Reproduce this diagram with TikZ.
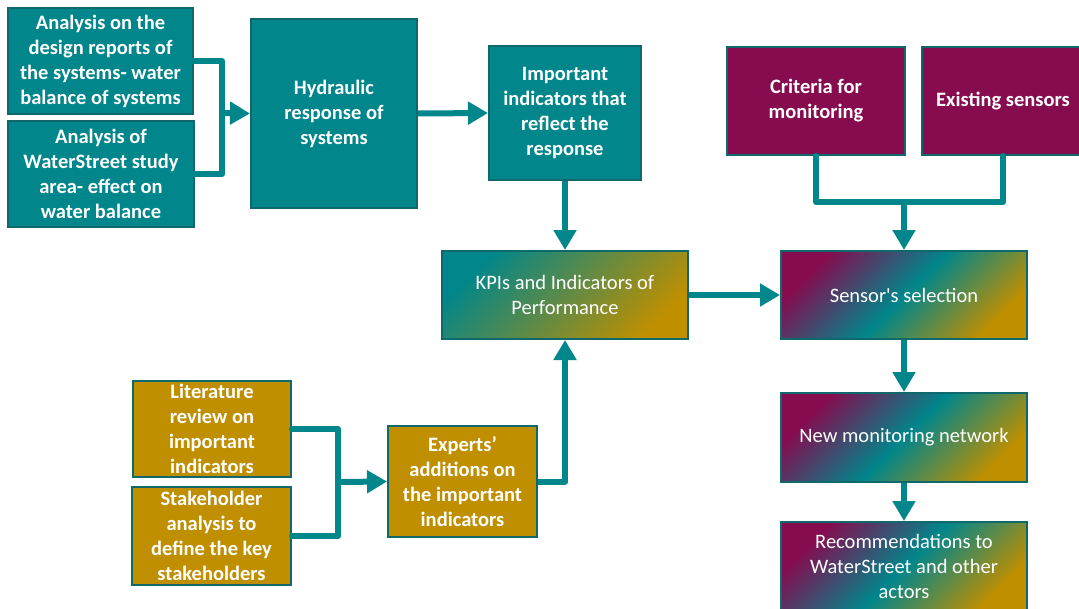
\documentclass[tikz,border=0pt]{standalone}
\usepackage{fontspec}
\setmainfont{Carlito}
\usepackage{tikz}
\usetikzlibrary{arrows.meta}
\definecolor{tl}{RGB}{0,134,139}
\definecolor{tldark}{RGB}{14,104,108}
\definecolor{gd}{RGB}{191,143,0}
\definecolor{mg}{RGB}{134,11,79}
\tikzset{
  box/.style={draw=tldark, line width=2pt, text=white, align=center, inner sep=0pt,
    font=\fontsize{20.5}{25}\selectfont},
  tlbox/.style={box, fill=tl, font=\fontsize{20.5}{25}\selectfont\bfseries},
  gdbox/.style={box, fill=gd, font=\fontsize{20.5}{25}\selectfont\bfseries},
  mgbox/.style={box, fill=mg, font=\fontsize{20.5}{25}\selectfont\bfseries},
  kpibox/.style={box, left color=tl, right color=gd, middle color=tl!50!gd, shading angle=45},
  mixbox/.style={box, left color=mg, right color=gd, middle color=tl, shading angle=45},
  conn/.style={draw=tl, line width=6pt, line join=round, line cap=round},
  arr/.style={conn, line cap=butt, -{Triangle[length=20pt,width=22pt]}},
}
\begin{document}
\begin{tikzpicture}[x=1pt, y=-1pt]
  \useasboundingbox (0,0) rectangle (1079,608);

  % teal column
  \node[tlbox, minimum width=185pt, minimum height=106pt] (a1) at (100.5,61)
    {Analysis on the\\design reports of\\the systems- water\\balance of systems};
  \node[tlbox, minimum width=186pt, minimum height=106pt] (a2) at (101,174)
    {Analysis of\\WaterStreet study\\area- effect on\\water balance};
  \node[tlbox, minimum width=166pt, minimum height=189pt] (hyd) at (334,113.5)
    {Hydraulic\\response of\\systems};
  \node[tlbox, minimum width=152pt, minimum height=134pt] (imp) at (565,113)
    {Important\\indicators that\\reflect the\\response};

  % gold column
  \node[gdbox, minimum width=158pt, minimum height=96pt] (lit) at (212,429)
    {Literature\\review on\\important\\indicators};
  \node[gdbox, minimum width=159pt, minimum height=98pt] (stk) at (211.5,536)
    {Stakeholder\\analysis to\\define the key\\stakeholders};
  \node[gdbox, minimum width=149pt, minimum height=111pt] (exp) at (462.5,481.5)
    {Experts’\\additions on\\the important\\indicators};

  \node[kpibox, minimum width=246pt, minimum height=88pt] (kpi) at (565,295)
    {KPIs and Indicators of\\Performance};

  % sensor side
  \node[mgbox, minimum width=178pt, minimum height=108pt] (crit) at (816,101)
    {Criteria for\\monitoring};
  \node[mgbox, minimum width=162pt, minimum height=108pt] (exi) at (1003,101)
    {Existing sensors};
  \node[mixbox, minimum width=246pt, minimum height=88pt] (sen) at (904,295)
    {Sensor\textquotesingle s selection};
  \node[mixbox, minimum width=246pt, minimum height=89pt] (net) at (904,437.5)
    {New monitoring network};
  \node[mixbox, minimum width=246pt, minimum height=89pt] (rec) at (904,566.5)
    {Recommendations to\\WaterStreet and other\\actors};

  \coordinate (m1) at (222,113);
  \coordinate (m2) at (338,482);
  \coordinate (m3) at (904,202);

  \draw[conn] (a1.east) -| (m1) |- (a2.east);
  \draw[arr] (m1) -- (hyd.west);
  \draw[arr] (hyd.east) -- (imp.west);
  \draw[arr] (imp.south) -- (kpi.north);
  \draw[conn] (lit.east) -| (m2) |- (stk.east);
  \draw[arr] (m2) -- (exp.west);
  \draw[arr] (exp.east) -| (kpi.south);
  \draw[arr] (kpi.east) -- (sen.west);
  \draw[conn] (crit.south) |- (m3) -| (exi.south);
  \draw[arr] (m3) -- (sen.north);
  \draw[arr] (sen.south) -- (net.north);
  \draw[arr] (net.south) -- (rec.north);
\end{tikzpicture}
\end{document}
